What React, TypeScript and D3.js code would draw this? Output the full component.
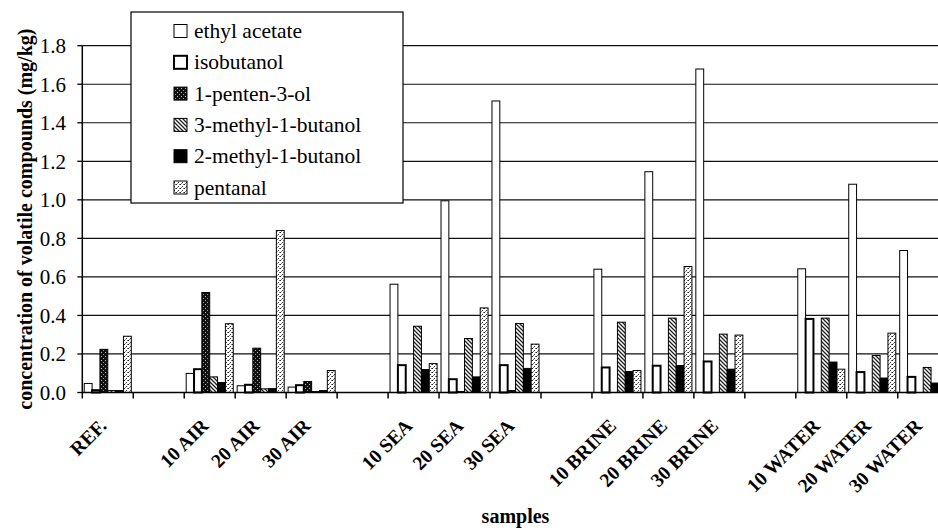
import React from "react";
import * as d3 from "d3";

const categories = ["REF.", "", "10 AIR", "20 AIR", "30 AIR", "", "10 SEA", "20 SEA", "30 SEA", "", "10 BRINE", "20 BRINE", "30 BRINE", "", "10 WATER", "20 WATER", "30 WATER"];
const seriesNames = ["ethyl acetate", "isobutanol", "1-penten-3-ol", "3-methyl-1-butanol", "2-methyl-1-butanol", "pentanal"];
const ethylAcetate = [0.047, null, 0.099, 0.035, 0.028, null, 0.562, 0.995, 1.513, null, 0.64, 1.146, 1.679, null, 0.642, 1.081, 0.737];
const isobutanol = [0.012, null, 0.121, 0.04, 0.038, null, 0.142, 0.069, 0.142, null, 0.13, 0.139, 0.161, null, 0.382, 0.106, 0.081];
const pentenol = [0.224, null, 0.519, 0.23, 0.057, null, 0, 0.005, 0.01, null, 0, 0, 0, null, 0, 0, 0];
const methylButanol3 = [0.01, null, 0.081, 0.019, 0.005, null, 0.344, 0.28, 0.358, null, 0.365, 0.386, 0.303, null, 0.386, 0.192, 0.13];
const methylButanol2 = [0.01, null, 0.052, 0.02, 0.01, null, 0.119, 0.081, 0.125, null, 0.109, 0.14, 0.121, null, 0.158, 0.075, 0.049];
const pentanal = [0.292, null, 0.357, 0.841, 0.114, null, 0.15, 0.439, 0.251, null, 0.114, 0.654, 0.298, null, 0.121, 0.308, null];
const yTicks = [0, 0.2, 0.4, 0.6, 0.8, 1.0, 1.2, 1.4, 1.6, 1.8];

const seriesValues = [ethylAcetate, isobutanol, pentenol, methylButanol3, methylButanol2, pentanal];
const fills = ["#fff", "#fff", "url(#pDark)", "url(#pHatch)", "#000", "url(#pLight)"];
const strokeWidths = [1, 2, 1, 1, 1, 1];

const W = 938;
const H = 530;
const left = 82.3;
const right = 948.7;
const top = 45.7;
const bottom = 392.5;
const serif = "'Liberation Serif', 'Times New Roman', serif";

export default function App() {
  const x0 = d3.scaleBand<number>().domain(d3.range(categories.length)).range([left, right]).paddingInner(0).paddingOuter(0);
  const x1 = d3.scaleBand<number>().domain(d3.range(seriesNames.length)).range([0, x0.bandwidth()]).paddingInner(0).paddingOuter(0.25);
  const y = d3.scaleLinear().domain([0, 1.8]).range([bottom, top]);
  const fmt = d3.format(".1f");
  const boundaries = d3.range(categories.length + 1).map((i) => left + i * x0.step());

  return (
    <svg width={W} height={H} style={{ position: "absolute", left: 0, top: 0, background: "#fff" }} fontFamily={serif}>
      <defs>
        <pattern id="pDark" patternUnits="userSpaceOnUse" width={4} height={4}>
          <rect width={4} height={4} fill="#111" />
          <rect x={1} y={0} width={1} height={1} fill="#bbb" />
          <rect x={3} y={2} width={1} height={1} fill="#999" />
        </pattern>
        <pattern id="pHatch" patternUnits="userSpaceOnUse" width={4} height={4}>
          <rect width={4} height={4} fill="#fff" />
          <path d="M-1,-1 L5,5 M3,-1 L5,1 M-1,3 L1,5" stroke="#222" strokeWidth={1.3} />
        </pattern>
        <pattern id="pLight" patternUnits="userSpaceOnUse" width={4} height={4}>
          <rect width={4} height={4} fill="#fff" />
          <rect x={0} y={0} width={1} height={1} fill="#222" />
          <rect x={2} y={2} width={1} height={1} fill="#333" />
          <rect x={3} y={0} width={1} height={1} fill="#777" />
          <rect x={1} y={3} width={1} height={1} fill="#888" />
        </pattern>
      </defs>

      {/* gridlines */}
      {yTicks.filter((t) => t > 0).map((t) => (
        <line key={"g" + t} x1={left} x2={right} y1={y(t)} y2={y(t)} stroke="#111" strokeWidth={1.2} />
      ))}

      {/* bars */}
      {categories.map((c, ci) =>
        seriesValues.map((vals, si) => {
          const v = vals[ci];
          if (v === null || v === undefined || v <= 0) return null;
          const bx = (x0(ci) as number) + (x1(si) as number);
          const bw = x1.bandwidth();
          return (
            <rect
              key={`b${ci}-${si}`}
              x={bx}
              y={y(v)}
              width={bw}
              height={bottom - y(v)}
              fill={fills[si]}
              stroke="#000"
              strokeWidth={strokeWidths[si]}
            />
          );
        })
      )}

      {/* y axis */}
      <line x1={left} x2={left} y1={top} y2={bottom} stroke="#000" strokeWidth={1.5} />
      {yTicks.map((t) => (
        <g key={"yt" + t}>
          <line x1={left - 5} x2={left} y1={y(t)} y2={y(t)} stroke="#000" strokeWidth={1.3} />
          <text x={66} y={y(t)} dy="0.35em" textAnchor="end" fontSize={21} fill="#000">
            {fmt(t)}
          </text>
        </g>
      ))}

      {/* x axis */}
      <line x1={left} x2={right} y1={bottom} y2={bottom} stroke="#000" strokeWidth={1.5} />
      {boundaries.map((bx, i) => (
        <line key={"xt" + i} x1={bx} x2={bx} y1={bottom} y2={bottom + 6} stroke="#000" strokeWidth={1.5} />
      ))}
      {categories.map((c, ci) =>
        c ? (
          <text
            key={"xl" + ci}
            transform={`translate(${(x0(ci) as number) + x0.bandwidth() / 2},427) rotate(-45)`}
            textAnchor="end"
            fontSize={19.5}
            fontWeight="bold"
            fill="#000"
          >
            {c}
          </text>
        ) : null
      )}

      {/* axis titles */}
      <text transform={`translate(32,${(top + bottom) / 2}) rotate(-90)`} textAnchor="middle" fontSize={20} fontWeight="bold" fill="#000">
        concentration of volatile compounds (mg/kg)
      </text>
      <text x={(left + right) / 2} y={523} textAnchor="middle" fontSize={20} fontWeight="bold" fill="#000">
        samples
      </text>

      {/* legend */}
      <rect x={131} y={12} width={272} height={191} fill="#fff" stroke="#000" strokeWidth={1.2} />
      {seriesNames.map((name, i) => {
        const cy = 31 + i * 31.3;
        return (
          <g key={"lg" + i}>
            <rect x={174} y={cy - 6.5} width={13} height={13} fill={fills[i]} stroke="#000" strokeWidth={strokeWidths[i]} />
            <text x={194} y={cy + 7} fontSize={21.5} fill="#000">
              {name}
            </text>
          </g>
        );
      })}
    </svg>
  );
}
